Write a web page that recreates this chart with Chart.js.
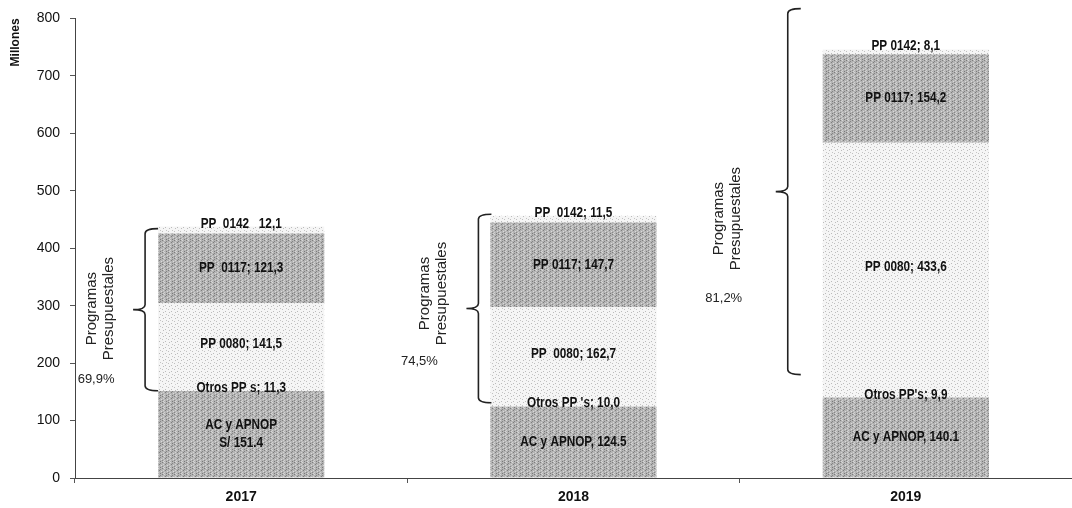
<!DOCTYPE html>
<html lang="es">
<head>
  <meta charset="UTF-8">
  <title>Presupuesto por programas</title>
  <script src="https://cdn.jsdelivr.net/npm/chart.js"></script>
</head>
<body style="margin:0; background:#fff;">
  <div style="position:relative; width:1072px; height:508px;">
    <canvas id="chart"></canvas>
  </div>

  <script>
    // datos (millones)
    const years = ['2017', '2018', '2019'];
    const acApnop = [151.4, 124.5, 140.1];
    const otrosPP = [11.3, 10.0, 9.9];
    const pp0080 = [141.5, 162.7, 433.6];
    const pp0117 = [121.3, 147.7, 154.2];
    const pp0142 = [12.1, 11.5, 8.1];

    const acText = [['AC y APNOP', 'S/ 151.4'], 'AC y APNOP, 124.5', 'AC y APNOP, 140.1'];
    const otrosText = ['Otros PP s; 11,3', "Otros PP 's; 10,0", "Otros PP's; 9,9"];
    const pp0080Text = ['PP 0080; 141,5', 'PP  0080; 162,7', 'PP 0080; 433,6'];
    const pp0117Text = ['PP  0117; 121,3', 'PP 0117; 147,7', 'PP 0117; 154,2'];
    const pp0142Text = ['PP  0142   12,1', 'PP  0142; 11,5', 'PP 0142; 8,1'];

    // llaves "Programas Presupuestales"
    const braceLow = [152, 131, 180];
    const braceHigh = [434, 459, 817];
    const bracePct = ['69,9%', '74,5%', '81,2%'];
    const braceTitle = ['Programas', 'Presupuestales'];

    // posiciones de las llaves (px, relativas a la barra / punta)
    const braceGap = [13, 12, 35];
    const braceText = [[-33, -1], [-33, -15], [-48, 27]];
    const bracePctPos = [[-37, 70], [-47, 53], [-52, 107]];

    function makePattern(base, dots) {
      const c = document.createElement('canvas');
      c.width = 6; c.height = 6;
      const g = c.getContext('2d');
      g.fillStyle = base;
      g.fillRect(0, 0, 6, 6);
      dots.forEach(d => { g.fillStyle = d[2]; g.fillRect(d[0], d[1], 1, 1); });
      return g.createPattern(c, 'repeat');
    }

    const dark = makePattern('#b4b4b4', [
      [0,0,'#7c7c7c'],[2,0,'#d8d8d8'],[4,1,'#858585'],[1,2,'#d4d4d4'],[3,2,'#7e7e7e'],
      [5,3,'#dadada'],[0,4,'#888'],[2,4,'#d2d2d2'],[4,5,'#7a7a7a'],[1,5,'#d6d6d6']
    ]);
    const light = makePattern('#f5f5f5', [
      [1,0,'#bcbcbc'],[4,2,'#c4c4c4'],[0,3,'#c0c0c0'],[3,5,'#bbbbbb']
    ]);

    const segLabels = {
      id: 'segLabels',
      afterDatasetsDraw(chart) {
        const ctx = chart.ctx;
        ctx.save();
        ctx.fillStyle = '#111';
        ctx.font = "bold 14px 'Liberation Sans', Arial, sans-serif";
        ctx.textAlign = 'center';
        ctx.textBaseline = 'middle';
        chart.data.datasets.forEach((ds, di) => {
          const meta = chart.getDatasetMeta(di);
          meta.data.forEach((bar, i) => {
            const lines = [].concat(ds.segText[i]);
            const yc = (bar.y + bar.base) / 2 + ds.textShift;
            lines.forEach((t, k) => {
              // letra condensada, como Arial Narrow
              ctx.save();
              ctx.translate(bar.x, yc + (k - (lines.length - 1) / 2) * 18);
              ctx.scale(0.84, 1);
              ctx.fillText(t, 0, 0);
              ctx.restore();
            });
          });
        });
        ctx.restore();
      }
    };

    const braces = {
      id: 'braces',
      afterDraw(chart) {
        const ctx = chart.ctx;
        const y = chart.scales.y;
        const meta = chart.getDatasetMeta(0);
        ctx.save();
        ctx.strokeStyle = '#222';
        ctx.lineWidth = 1.6;
        meta.data.forEach((bar, i) => {
          const v = bar.x - bar.width / 2 - braceGap[i];
          const top = y.getPixelForValue(braceHigh[i]);
          const bot = y.getPixelForValue(braceLow[i]);
          const mid = (top + bot) / 2;
          const r = 5, hook = 13, tip = 12;
          ctx.beginPath();
          ctx.moveTo(v + hook, top);
          ctx.quadraticCurveTo(v, top, v, top + r);
          ctx.lineTo(v, mid - r);
          ctx.quadraticCurveTo(v, mid, v - tip, mid);
          ctx.quadraticCurveTo(v, mid, v, mid + r);
          ctx.lineTo(v, bot - r);
          ctx.quadraticCurveTo(v, bot, v + hook, bot);
          ctx.stroke();

          const tx = v - tip + braceText[i][0];
          const ty = mid + braceText[i][1];
          ctx.fillStyle = '#222';
          ctx.font = "15px 'Liberation Sans', Arial, sans-serif";
          ctx.textAlign = 'center';
          ctx.textBaseline = 'middle';
          ctx.save();
          ctx.translate(tx, ty);
          ctx.rotate(-Math.PI / 2);
          braceTitle.forEach((t, k) => ctx.fillText(t, 0, (k - 0.5) * 17));
          ctx.restore();

          ctx.font = "13px 'Liberation Sans', Arial, sans-serif";
          ctx.fillText(bracePct[i], v - tip + bracePctPos[i][0], mid + bracePctPos[i][1]);
        });
        ctx.restore();
      }
    };

    function series(label, data, fill, text, shift) {
      return {
        label: label,
        data: data,
        backgroundColor: fill,
        borderWidth: 0,
        segText: text,
        textShift: shift,
        categoryPercentage: 0.5,
        barPercentage: 1.0
      };
    }

    new Chart(document.getElementById('chart'), {
      type: 'bar',
      data: {
        labels: years,
        datasets: [
          series('AC y APNOP', acApnop, dark, acText, 0),
          series("Otros PP's", otrosPP, light, otrosText, 0),
          series('PP 0080', pp0080, light, pp0080Text, 0),
          series('PP 0117', pp0117, dark, pp0117Text, 0),
          series('PP 0142', pp0142, light, pp0142Text, -6)
        ]
      },
      options: {
        responsive: true,
        maintainAspectRatio: false,
        animation: false,
        layout: { padding: { top: 8, right: 0, bottom: 0, left: 0 } },
        plugins: {
          legend: { display: false },
          tooltip: { enabled: false }
        },
        scales: {
          x: {
            stacked: true,
            grid: { display: true, drawOnChartArea: false, drawTicks: true, tickLength: 5, color: '#555', offset: true },
            border: { color: '#444', width: 1 },
            ticks: { color: '#111', padding: 6, font: { family: "'Liberation Sans', Arial, sans-serif", size: 14, weight: 'bold' } },
            afterFit(scale) { scale.height = 30; }
          },
          y: {
            stacked: true,
            min: 0,
            max: 800,
            ticks: { stepSize: 100, color: '#111', padding: 10, font: { family: "'Liberation Sans', Arial, sans-serif", size: 14 } },
            grid: { display: true, drawOnChartArea: false, drawTicks: true, tickLength: 5, color: '#555' },
            border: { color: '#444', width: 1 },
            title: {
              display: true,
              text: 'Millones',
              align: 'end',
              color: '#111',
              padding: { top: 8, bottom: 0 },
              font: { family: "'Liberation Sans', Arial, sans-serif", size: 12, weight: 'bold' }
            },
            afterFit(scale) { scale.width = 75; }
          }
        }
      },
      plugins: [segLabels, braces]
    });
  </script>
</body>
</html>
